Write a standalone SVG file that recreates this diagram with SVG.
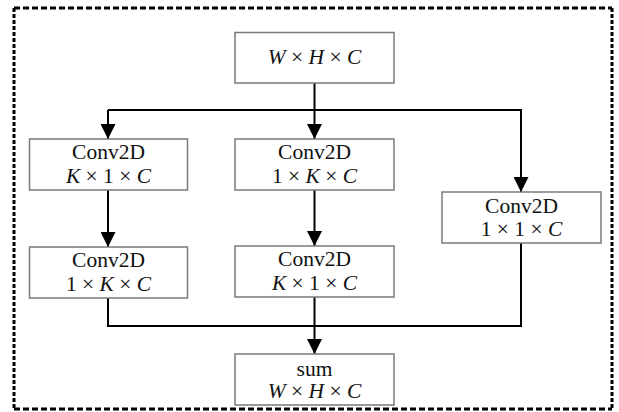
<svg xmlns="http://www.w3.org/2000/svg" width="619" height="412" viewBox="0 0 619 412">
<style>
.box{fill:#fff;stroke:#7a7a7a;stroke-width:1.5}
.t{font-family:"Liberation Serif","Times New Roman",serif;font-size:21.5px;fill:#111;text-anchor:middle}
.i{font-style:italic}
.c{fill:none;stroke:#000;stroke-width:2}
.bh{fill:none;stroke:#000;stroke-width:3;stroke-dasharray:6 3}
.bv{fill:none;stroke:#000;stroke-width:3;stroke-dasharray:4 2}
</style>
<defs>
<marker id="ah" viewBox="0 0 15 15" refX="15" refY="7.5" markerWidth="15" markerHeight="15" markerUnits="userSpaceOnUse" orient="auto">
<path d="M0,0 L15,7.5 L0,15 Z" fill="#000"/>
</marker>
</defs>
<g id="border">
<line class="bh" x1="14" y1="8" x2="612" y2="8"/>
<line class="bh" x1="14" y1="409" x2="612" y2="409"/>
<line class="bv" x1="14" y1="8" x2="14" y2="409"/>
<line class="bv" x1="612" y1="8" x2="612" y2="409"/>
</g>
<g id="connectors">
<line class="c" x1="314.5" y1="83" x2="314.5" y2="139" marker-end="url(#ah)"/>
<polyline class="c" points="108,110 521,110 521,192" marker-end="url(#ah)"/>
<line class="c" x1="108" y1="110" x2="108" y2="139" marker-end="url(#ah)"/>
<line class="c" x1="108" y1="190" x2="108" y2="247" marker-end="url(#ah)"/>
<line class="c" x1="314.5" y1="190" x2="314.5" y2="246" marker-end="url(#ah)"/>
<polyline class="c" points="108,298 108,326 521,326 521,243"/>
<line class="c" x1="314.5" y1="297" x2="314.5" y2="354" marker-end="url(#ah)"/>
</g>
<g id="input">
<rect class="box" x="235" y="32.5" width="159" height="50.5"/>
<text class="t" x="314.5" y="64"><tspan class="i">W</tspan> × <tspan class="i">H</tspan> × <tspan class="i">C</tspan></text>
</g>
<g id="conv_k1">
<rect class="box" x="29.5" y="139" width="158" height="51"/>
<text class="t" x="108.5" y="159">Conv2D</text>
<text class="t" x="108.5" y="183"><tspan class="i">K</tspan> × 1 × <tspan class="i">C</tspan></text>
</g>
<g id="conv_1k">
<rect class="box" x="235" y="139" width="159" height="51"/>
<text class="t" x="314.5" y="159">Conv2D</text>
<text class="t" x="314.5" y="183">1 × <tspan class="i">K</tspan> × <tspan class="i">C</tspan></text>
</g>
<g id="conv_11">
<rect class="box" x="442" y="192" width="159" height="51"/>
<text class="t" x="521.5" y="213">Conv2D</text>
<text class="t" x="521.5" y="236">1 × 1 × <tspan class="i">C</tspan></text>
</g>
<g id="conv_1k_b">
<rect class="box" x="29.5" y="247" width="158" height="51"/>
<text class="t" x="108.5" y="267">Conv2D</text>
<text class="t" x="108.5" y="291">1 × <tspan class="i">K</tspan> × <tspan class="i">C</tspan></text>
</g>
<g id="conv_k1_b">
<rect class="box" x="235" y="246" width="159" height="51"/>
<text class="t" x="314.5" y="266">Conv2D</text>
<text class="t" x="314.5" y="290"><tspan class="i">K</tspan> × 1 × <tspan class="i">C</tspan></text>
</g>
<g id="sum">
<rect class="box" x="235" y="354" width="159" height="51"/>
<text class="t" x="314.5" y="376">sum</text>
<text class="t" x="314.5" y="398"><tspan class="i">W</tspan> × <tspan class="i">H</tspan> × <tspan class="i">C</tspan></text>
</g>
</svg>
